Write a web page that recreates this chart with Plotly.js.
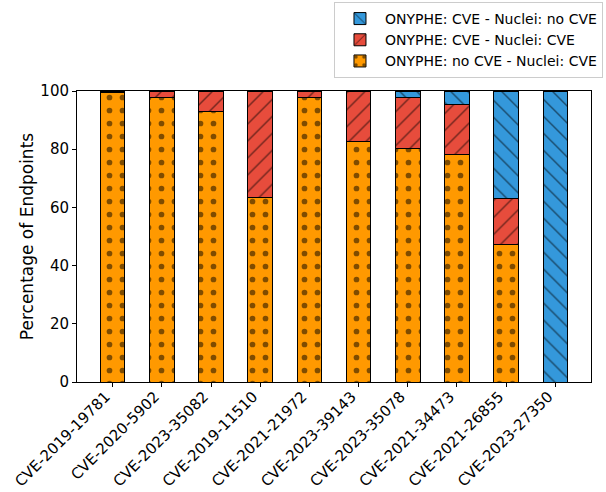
<!DOCTYPE html>
<html><head><meta charset="utf-8">
<script src="https://cdn.plot.ly/plotly-3.0.1.min.js"></script>
<style>body{margin:0;background:#fff}#c{width:606px;height:492px}</style>
</head><body><div id="c"></div>
<script>
const categories = ["CVE-2019-19781","CVE-2020-5902","CVE-2023-35082","CVE-2019-11510","CVE-2021-21972","CVE-2023-39143","CVE-2023-35078","CVE-2021-34473","CVE-2021-26855","CVE-2023-27350"];
const noCveBoth = [99.5, 97.7, 92.9, 63.5, 97.8, 82.6, 80.1, 78.2, 47.4, 0];
const cveBoth = [0.5, 2.3, 7.1, 36.5, 2.2, 17.1, 17.6, 17.1, 15.5, 0];
const cveOnlyOnyphe = [0, 0, 0, 0, 0, 0.3, 2.3, 4.7, 37.1, 100];
const seriesNames = ["ONYPHE: no CVE - Nuclei: CVE","ONYPHE: CVE - Nuclei: CVE","ONYPHE: CVE - Nuclei: no CVE"];

const font = "DejaVu Sans, sans-serif";
function tr(y, name, color, shape, size, sol){
  return {type:'bar', x:categories, y:y, name:name,
    marker:{color:color, line:{color:'#000', width:1},
      pattern:{shape:shape, fgcolor:'#000', bgcolor:color, size:size, solidity:sol, fillmode:'overlay'}},
    width:0.5};
}
const data = [
  tr(noCveBoth, seriesNames[0], '#ff9900', '.', 13, 0.15),
  tr(cveBoth, seriesNames[1], '#e74c3c', '/', 12, 0.12),
  tr(cveOnlyOnyphe, seriesNames[2], '#3498db', '\\', 12, 0.12)
];
const layout = {
  width:606, height:492, barmode:'stack',
  margin:{l:77, r:15, t:91, b:110, autoexpand:false},
  paper_bgcolor:'#fff', plot_bgcolor:'#fff',
  font:{family:font, color:'#000', size:15},
  showlegend:true,
  legend:{xref:'container', yref:'container', x:0.995, xanchor:'right', y:0.996, yanchor:'top', traceorder:'reversed',
    bordercolor:'#cccccc', borderwidth:1, font:{size:14, family:font}, tracegroupgap:0, itemwidth:40},
  xaxis:{range:[-0.725, 9.725], tickangle:-45, ticks:'outside', ticklen:4, tickcolor:'#000',
    showline:true, mirror:true, linecolor:'#000', linewidth:1, showgrid:false, zeroline:false,
    tickfont:{size:15, family:font}, ticklabelshift:-7, ticklabelstandoff:-5},
  yaxis:{range:[0,100], tickvals:[0,20,40,60,80,100], ticks:'outside', ticklen:4, tickcolor:'#000',
    showline:true, mirror:true, linecolor:'#000', linewidth:1, showgrid:false, zeroline:false,
    tickfont:{size:15, family:font},
    title:{text:'Percentage of Endpoints', font:{size:17, family:font}, standoff:2}}
};
Plotly.newPlot('c', data, layout, {staticPlot:true});
</script></body></html>
